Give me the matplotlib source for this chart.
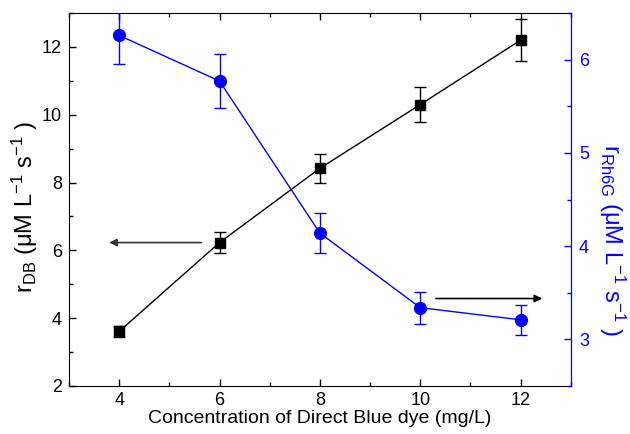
import matplotlib.pyplot as plt
from matplotlib.ticker import MultipleLocator

plt.rcParams['font.family'] = ['Liberation Sans', 'DejaVu Sans']
plt.rcParams['mathtext.fontset'] = 'custom'
plt.rcParams['mathtext.rm'] = 'Liberation Sans'
plt.rcParams['mathtext.it'] = 'Liberation Sans:italic'

# concentration of dye (mg/L)
conc = [4, 6, 8, 10, 12]

# rate of Direct Blue removal and its error
rateDB = [3.61, 6.23, 8.42, 10.30, 12.20]
errDB = [0.17, 0.31, 0.42, 0.51, 0.62]

# rate of Rh6G removal and its error
rateRh = [6.26, 5.77, 4.14, 3.34, 3.21]
errRh = [0.31, 0.29, 0.21, 0.17, 0.16]

fig = plt.figure(figsize=(6.3, 4.34), dpi=100)
ax = fig.add_axes([0.1095, 0.1106, 0.7965, 0.8594])
ax2 = ax.twinx()

ax.errorbar(conc, rateDB, yerr=errDB, color='black', marker='s', markersize=7,
            linewidth=1, elinewidth=1, capsize=4, capthick=1)
ax2.errorbar(conc, rateRh, yerr=errRh, color='#0000ff', marker='o', markersize=8.5,
             linewidth=1, elinewidth=1, capsize=4, capthick=1)

ax.set_xlim(3, 13)
ax.set_ylim(2, 13)
ax2.set_ylim(2.5, 6.5)

ax.xaxis.set_major_locator(MultipleLocator(2))
ax.xaxis.set_minor_locator(MultipleLocator(1))
ax.yaxis.set_major_locator(MultipleLocator(2))
ax.yaxis.set_minor_locator(MultipleLocator(1))
ax2.yaxis.set_major_locator(MultipleLocator(1))
ax2.yaxis.set_minor_locator(MultipleLocator(0.5))
ax2.set_yticks([3, 4, 5, 6])

ax.tick_params(which='both', direction='in', top=True, right=False,
               labelsize=13, width=1, pad=5)
ax.tick_params(axis='x', pad=4)
ax.tick_params(which='major', length=5)
ax.tick_params(which='minor', length=3)
ax2.tick_params(which='both', direction='in', colors='#0000ff',
                labelsize=13, width=1, pad=6)
ax2.tick_params(which='major', length=5)
ax2.tick_params(which='minor', length=3)
ax2.spines['right'].set_color('#0000ff')
ax2.spines['left'].set_visible(False)
ax2.spines['top'].set_visible(False)
ax2.spines['bottom'].set_visible(False)

ax.set_xlabel('Concentration of Direct Blue dye (mg/L)', fontsize=14, labelpad=1)
ax.set_ylabel(r'r$_{\mathregular{DB}}$ (μM L$^{\mathregular{-1}}$ s$^{\mathregular{-1}}$ )',
              fontsize=17)
ax.yaxis.set_label_coords(-0.058, 0.48)
ax2.set_ylabel(r'r$_{\mathregular{Rh6G}}$ (μM L$^{\mathregular{-1}}$ s$^{\mathregular{-1}}$ )',
               fontsize=17, color='#0000ff', rotation=270, va='center')
ax2.yaxis.set_label_coords(1.082, 0.39)

# arrows pointing each curve to its axis
ax.annotate('', xy=(3.8, 6.23), xytext=(5.64, 6.23),
            arrowprops=dict(arrowstyle='-|>', color='#333333', lw=1.2,
                            mutation_scale=11, shrinkA=0, shrinkB=0))
ax.annotate('', xy=(12.43, 4.58), xytext=(10.31, 4.58),
            arrowprops=dict(arrowstyle='-|>', color='black', lw=1.2,
                            mutation_scale=11, shrinkA=0, shrinkB=0))

fig.savefig('out.png', dpi=100)
